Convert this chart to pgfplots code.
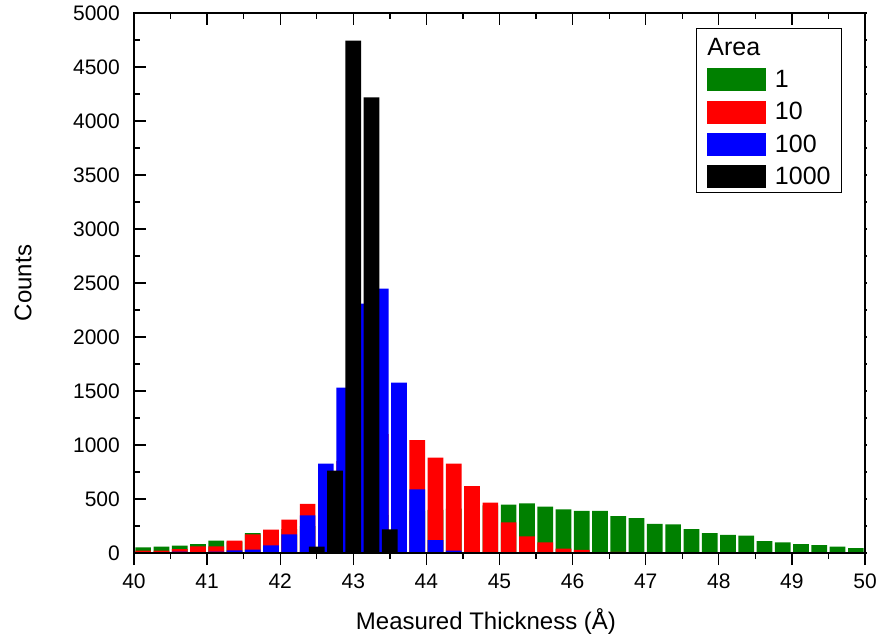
\documentclass[border=0pt]{standalone}
\usepackage{pgfplots}
\pgfplotsset{compat=1.18}
\usepackage{fontspec}
\setmainfont{Liberation Sans}
\definecolor{cgreen}{RGB}{0,128,0}
\definecolor{cred}{RGB}{255,0,0}
\definecolor{cblue}{RGB}{0,0,255}
\pgfplotsset{
  hist/.style={ybar, bar width=0.215, bar shift=0pt, draw=none, fill=#1,
    legend image code/.code={\fill[#1] (0pt,-11.5pt) rectangle (59pt,11.5pt);}},
  frame/.style={scale only axis, width=731pt, height=540pt,
    xmin=40, xmax=50, ymin=0, ymax=5000,
    xtick={40,...,50}, ytick={0,500,...,5000},
    axis line style={line width=1.6pt},
    every tick/.style={black, line width=1.3pt}},
}
\begin{document}
\begin{tikzpicture}
\begin{axis}[frame,
  major tick length=0pt, minor tick length=0pt,
  /pgf/number format/assume math mode=true,
  tick label style={font=\fontsize{21}{25}\selectfont, inner sep=0pt},
  yticklabel style={/pgf/number format/1000 sep={}, anchor=east, xshift=-14pt},
  xticklabel style={anchor=base, yshift=-35pt},
  xlabel={Measured Thickness (Å)},
  ylabel={Counts},
  every axis x label/.style={at={(axis description cs:0.4815,0)}, anchor=base, yshift=-76pt, font=\fontsize{24}{27}\selectfont},
  every axis y label/.style={at={(axis description cs:-0.1518,0.5)}, rotate=90, anchor=center, font=\fontsize{24}{27}\selectfont},
  legend style={at={(rel axis cs:1,1)}, anchor=north east, xshift=-23pt, yshift=-15pt,
    draw=black, line width=0.8pt, font=\fontsize{25}{28}\selectfont,
    inner xsep=11pt, inner ysep=4pt, row sep=9.3pt, column sep=9pt,
    nodes={inner sep=0pt}},
  legend cell align=left,
]
\addlegendimage{legend image code/.code={\path[draw=none, fill=none] (0pt,-11.5pt) rectangle (59pt,15pt); \node[anchor=west, inner sep=0pt, draw=none] at (0pt,0pt) {Area};}}
\addlegendentry{}
\addplot[hist=cgreen] coordinates {
(40.125,52) (40.375,58) (40.625,68) (40.875,83) (41.125,114) (41.375,105)
(41.625,185) (41.875,200) (42.125,220) (42.375,250) (42.625,280) (42.875,300)
(43.125,330) (43.375,350) (43.625,370) (43.875,390) (44.125,400) (44.375,410)
(44.625,420) (44.875,440) (45.125,447) (45.375,459) (45.625,429) (45.875,404)
(46.125,389) (46.375,389) (46.625,341) (46.875,324) (47.125,269) (47.375,265)
(47.625,222) (47.875,185) (48.125,169) (48.375,160) (48.625,111) (48.875,98)
(49.125,83) (49.375,74) (49.625,58) (49.875,46)};
\addlegendentry{1}
\addplot[hist=cred] coordinates {
(40.125,21) (40.375,21) (40.625,37) (40.875,61) (41.125,61) (41.375,114)
(41.625,173) (41.875,216) (42.125,308) (42.375,456) (42.625,650) (42.875,850)
(43.125,1000) (43.375,1100) (43.625,1100) (43.875,1046) (44.125,882) (44.375,827)
(44.625,620) (44.875,466) (45.125,283) (45.375,154) (45.625,98) (45.875,40)
(46.125,28) (46.375,9) (46.625,10) (46.875,6)};
\addlegendentry{10}
\addplot[hist=cblue] coordinates {
(40.125,9) (40.375,5) (40.625,12) (40.875,5) (41.125,12) (41.375,25)
(41.625,31) (41.875,71) (42.125,172) (42.375,348) (42.625,827) (42.875,1531)
(43.125,2308) (43.375,2447) (43.625,1577) (43.875,589) (44.125,120) (44.375,21)
(44.625,9) (44.875,5)};
\addlegendentry{100}
\addplot[hist=black] coordinates {
(42.5,58) (42.75,762) (43.0,4744) (43.25,4219) (43.5,219)};
\addlegendentry{1000}
\end{axis}
% bottom ticks, outward
\begin{axis}[frame, xtick pos=left, ytick=\empty, tick align=outside,
  major tick length=12pt, minor tick length=6pt, minor x tick num=1,
  xticklabels={}]
\end{axis}
% top and left ticks, inward
\begin{axis}[frame, xtick pos=right, ytick pos=left, tick align=inside,
  major tick length=12pt, minor tick length=6pt, minor x tick num=1, minor y tick num=1,
  xticklabels={}, yticklabels={}]
\end{axis}
% right ticks, small
\begin{axis}[frame, xtick=\empty, ytick pos=right, tick align=center,
  major tick length=3pt, minor tick length=3pt, minor y tick num=1,
  yticklabels={}]
\end{axis}
\pgfresetboundingbox
\path (-134pt,-87pt) rectangle (746pt,553pt);
\end{tikzpicture}
\end{document}
